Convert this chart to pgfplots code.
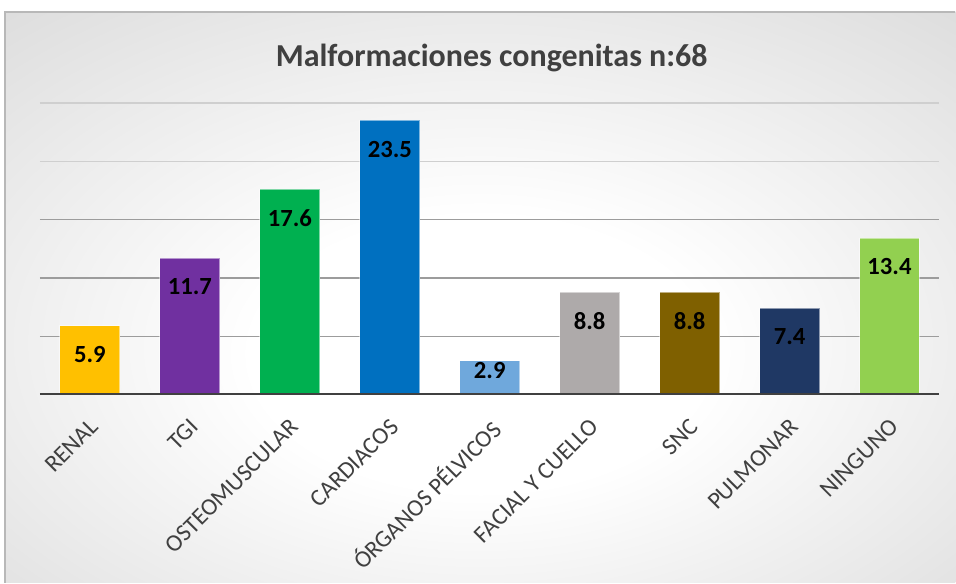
\documentclass[border=0pt]{standalone}
\usepackage{pgfplots}
\pgfplotsset{compat=1.18}
\usepackage{fontspec}
\setmainfont{Carlito}

\definecolor{cRenal}{HTML}{FFC000}
\definecolor{cTgi}{HTML}{7030A0}
\definecolor{cOsteo}{HTML}{00B050}
\definecolor{cCard}{HTML}{0070C0}
\definecolor{cPelv}{HTML}{6FA8DC}
\definecolor{cFacial}{HTML}{AEAAAA}
\definecolor{cSnc}{HTML}{7F6000}
\definecolor{cPulm}{HTML}{1F3864}
\definecolor{cNing}{HTML}{92D050}
\definecolor{gridcol}{HTML}{9C9C9C}
\definecolor{gridlight}{HTML}{CFCFCF}
\definecolor{axiscol}{HTML}{404040}
\definecolor{labcol}{HTML}{404040}

\pgfdeclareradialshading{chartbg}{\pgfpoint{0bp}{-6bp}}{%
  color(0bp)=(white); color(12bp)=(white); color(45bp)=(black!17); color(70bp)=(black!25)}

\begin{document}
\begin{tikzpicture}[x=1pt,y=1pt]
  \fill[white] (0,0) rectangle (717,437.25);
  \shade[shading=chartbg] (3.75,0) rectangle (717,428.25);
  \draw[black!28, line width=0.8pt] (3.75,0) -- (3.75,428.25) -- (717,428.25);

  \node[font=\fontsize{24}{28}\selectfont\bfseries, text=labcol] at (369,394)
    {Malformaciones congenitas n:68};

  \begin{axis}[
    at={(30pt,141pt)}, anchor=south west,
    scale only axis, width=675pt, height=219pt,
    xmin=-0.5, xmax=8.5, ymin=0, ymax=25,
    ybar, bar width=45pt, bar shift=0pt,
    axis line style={draw=none},
    ytick={5,10,15}, yticklabels={},
    extra y ticks={20,25}, extra y tick labels={},
    extra y tick style={grid style={line width=0.9pt, draw=gridlight}},
    ymajorgrids, grid style={line width=0.9pt, draw=gridcol},
    major tick length=0pt,
    xtick={0,...,8},
    xticklabels={RENAL, TGI, OSTEOMUSCULAR, CARDIACOS, ÓRGANOS PÉLVICOS,
                 FACIAL Y CUELLO, SNC, PULMONAR, NINGUNO},
    xticklabel style={rotate=45, anchor=north east, text=labcol,
                      font=\fontsize{18}{18}\selectfont, xshift=-9pt, yshift=-8pt},
    every axis plot/.append style={draw=white, draw opacity=0.5, line width=0.75pt},
    nodes near coords,
    every node near coord/.append style={font=\fontsize{18.5}{18.5}\selectfont\bfseries,
      text=black, anchor=center, yshift=-21.5pt,
      /pgf/number format/assume math mode=true},
  ]
  \addplot[fill=cRenal]  coordinates {(0,5.9)};
  \addplot[fill=cTgi]    coordinates {(1,11.7)};
  \addplot[fill=cOsteo]  coordinates {(2,17.6)};
  \addplot[fill=cCard]   coordinates {(3,23.5)};
  \addplot[fill=cPelv, every node near coord/.append style={yshift=14.5pt}] coordinates {(4,2.9)};
  \addplot[fill=cFacial] coordinates {(5,8.8)};
  \addplot[fill=cSnc]    coordinates {(6,8.8)};
  \addplot[fill=cPulm]   coordinates {(7,7.4)};
  \addplot[fill=cNing]   coordinates {(8,13.4)};

  \draw[line width=3pt, axiscol] (axis cs:-0.5,0) -- (axis cs:8.5,0);
  \end{axis}
\end{tikzpicture}
\end{document}
